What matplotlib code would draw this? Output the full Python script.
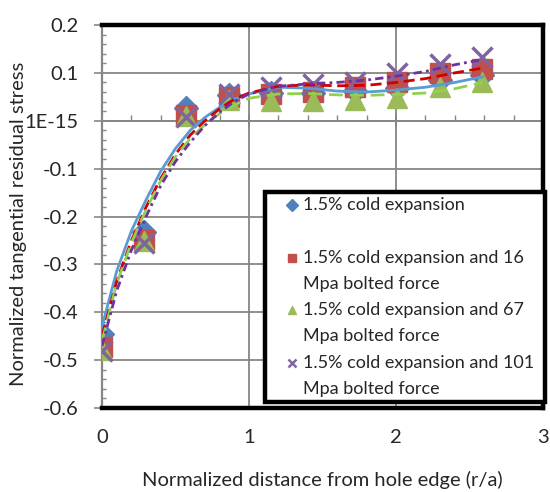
import numpy as np
import matplotlib.pyplot as plt
from matplotlib.patches import Rectangle
from matplotlib.ticker import MultipleLocator, FixedLocator, FixedFormatter

plt.rcParams['font.family'] = ['Lato', 'DejaVu Sans']

# ── measured points (r/a vs normalized tangential stress) ──
x_pts = [0, 0.287, 0.574, 0.861, 1.148, 1.435, 1.722, 2.009, 2.296, 2.583]
y_ce = [-0.445, -0.232, 0.026, 0.054, 0.058, 0.058, 0.062, 0.068, 0.085, 0.095]
y_16 = [-0.472, -0.250, 0.012, 0.050, 0.056, 0.060, 0.071, 0.081, 0.100, 0.108]
y_67 = [-0.478, -0.252, 0.010, 0.043, 0.042, 0.042, 0.043, 0.048, 0.070, 0.081]
y_101 = [-0.480, -0.255, 0.008, 0.056, 0.070, 0.077, 0.081, 0.100, 0.119, 0.133]

# ── trend curves ──
x_fit = [0, 0.1, 0.2, 0.3, 0.4, 0.5, 0.6, 0.7, 0.8, 0.9, 1.0,
         1.2, 1.4, 1.6, 1.8, 2.0, 2.2, 2.4, 2.59]
fit_ce = [-0.430, -0.314, -0.230, -0.165, -0.105, -0.058, -0.020, 0.007, 0.028, 0.045, 0.056,
          0.070, 0.068, 0.062, 0.060, 0.064, 0.070, 0.080, 0.092]
fit_16 = [-0.450, -0.335, -0.250, -0.180, -0.120, -0.070, -0.030, 0.000, 0.025, 0.045, 0.058,
          0.072, 0.075, 0.073, 0.074, 0.080, 0.088, 0.100, 0.110]
fit_67 = [-0.460, -0.340, -0.255, -0.185, -0.125, -0.075, -0.037, -0.008, 0.015, 0.033, 0.047,
          0.056, 0.057, 0.054, 0.053, 0.055, 0.058, 0.067, 0.080]
fit_101 = [-0.470, -0.355, -0.270, -0.200, -0.135, -0.085, -0.045, -0.010, 0.018, 0.040, 0.056,
           0.072, 0.077, 0.080, 0.085, 0.093, 0.103, 0.117, 0.128]

labels = ["1.5% cold expansion",
          "1.5% cold expansion and 16\nMpa bolted force",
          "1.5% cold expansion and 67\nMpa bolted force",
          "1.5% cold expansion and 101\nMpa bolted force"]
y_ticks = [-0.6, -0.5, -0.4, -0.3, -0.2, -0.1, 0.0, 0.1, 0.2]
y_tick_labels = ["-0.6", "-0.5", "-0.4", "-0.3", "-0.2", "-0.1", "1E-15", "0.1", "0.2"]
x_ticks = [0, 1, 2, 3]

# Excel 2010 style palette
marker_colors = ["#4F81BD", "#C0504D", "#9BBB59", "#8064A2"]
line_colors = ["#5B9BD5", "#D00000", "#92D050", "#7030A0"]
markers = ["D", "s", "^", "x"]
marker_sizes = [12, 14, 15, 14]
line_styles = ["-", (0, (4, 2)), (0, (5, 2.5)), (0, (3, 1.5, 1, 1.5))]

grid_gray = "#868686"
text_col = "#262626"
fs = 14.5
fs_leg = 13

fig = plt.figure(figsize=(5.5, 4.92), dpi=100)
ax = fig.add_axes([0.1855, 0.1707, 0.8018, 0.7785])

series = [y_ce, y_16, y_67, y_101]
fits = [fit_ce, fit_16, fit_67, fit_101]

for ys, m, ms, c in zip(series, markers, marker_sizes, marker_colors):
    if m == "x":
        ax.plot(x_pts, ys, ls="none", marker=m, ms=ms, mew=2.5, color=c, zorder=3)
    else:
        ax.plot(x_pts, ys, ls="none", marker=m, ms=ms, mec=c, mfc=c, zorder=3)

for fy, c, ls in zip(fits, line_colors, line_styles):
    ax.plot(x_fit, fy, ls=ls, color=c, lw=2, zorder=4)

ax.set_xlim(0, 3)
ax.set_ylim(-0.6, 0.2)
ax.set_axisbelow(True)

# y axis
ax.yaxis.set_major_locator(FixedLocator(y_ticks))
ax.yaxis.set_major_formatter(FixedFormatter(y_tick_labels))
ax.yaxis.set_minor_locator(MultipleLocator(0.02))
ax.tick_params(axis="y", which="major", direction="out", length=6, width=1.2,
               color=grid_gray, labelsize=fs, labelcolor=text_col, pad=11)
ax.tick_params(axis="y", which="minor", direction="in", length=3, width=1.0,
               color=grid_gray)

# x axis labels sit at the bottom; no ticks there
ax.xaxis.set_major_locator(FixedLocator(x_ticks))
ax.tick_params(axis="x", which="both", length=0, labelsize=fs,
               labelcolor=text_col, pad=15)

ax.grid(True, which="major", color=grid_gray, lw=1.3)

for side in ["top", "right", "bottom"]:
    ax.spines[side].set_color("black")
    ax.spines[side].set_linewidth(3.2)
ax.spines["left"].set_color(grid_gray)
ax.spines["left"].set_linewidth(1.6)

# horizontal axis crossing at y = 0
sec = ax.secondary_xaxis(0.75)
sec.set_alignment("bottom")
sec.spines["bottom"].set_color(grid_gray)
sec.spines["bottom"].set_linewidth(1.3)
sec.xaxis.set_major_locator(MultipleLocator(1))
sec.xaxis.set_minor_locator(MultipleLocator(0.2))
sec.tick_params(axis="x", which="major", direction="inout", length=8, width=1.2,
                color=grid_gray, labelbottom=False)
sec.tick_params(axis="x", which="minor", direction="in", length=4, width=1.0,
                color=grid_gray)

ax.set_xlabel("Normalized distance from hole edge (r/a)", fontsize=fs,
              color=text_col, labelpad=18)
ax.set_ylabel("Normalized tangential residual stress", fontsize=fs,
              color=text_col)
ax.yaxis.set_label_coords(-0.17, 0.48)

# legend box drawn by hand (Excel-style wrapped entries)
box = Rectangle((0.37, 0.016), 0.635, 0.548, transform=ax.transAxes,
                fc="white", ec="black", lw=3.2, zorder=10, clip_on=False)
ax.add_patch(box)

row_tops = [0.530, 0.392, 0.256, 0.117]
line_step = 0.068
for lab, m, c, yt in zip(labels, markers, marker_colors, row_tops):
    if m == "x":
        ax.plot([0.431], [yt], transform=ax.transAxes, ls="none", marker=m, ms=6,
                mew=1.8, color=c, zorder=11, clip_on=False)
    else:
        ax.plot([0.431], [yt], transform=ax.transAxes, ls="none", marker=m, ms=6,
                mec=c, mfc=c, zorder=11, clip_on=False)
    for i, part in enumerate(lab.split("\n")):
        ax.text(0.456, yt - i * line_step, part, transform=ax.transAxes,
                fontsize=fs_leg, color=text_col, va="center", ha="left", zorder=11)

fig.savefig("out.png", dpi=100)
